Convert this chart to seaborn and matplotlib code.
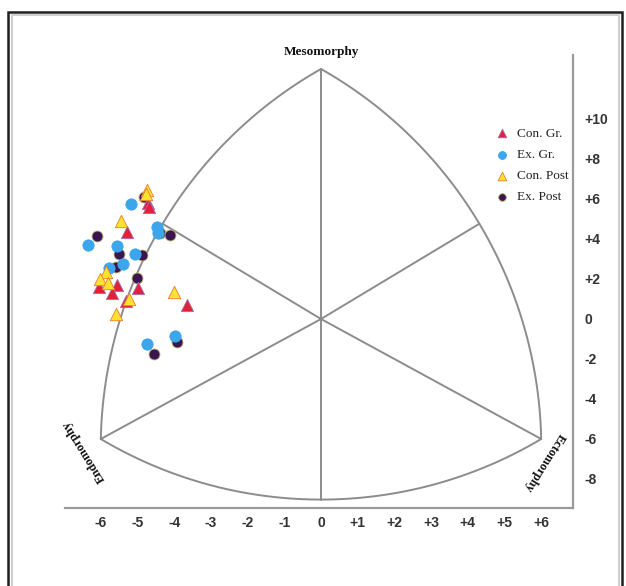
import numpy as np
import pandas as pd
import seaborn as sns
import matplotlib.pyplot as plt
import matplotlib.patches as mpatches

# --- somatotype points (x = ecto - endo, y = 2*meso - (endo + ecto)) ---
con_gr_x = [-4.71, -4.70, -5.29, -6.05, -5.56, -5.69, -4.99, -5.31, -3.65]
con_gr_y = [5.80, 5.60, 4.35, 1.60, 1.70, 1.30, 1.55, 0.90, 0.70]

ex_gr_x = [-5.18, -4.47, -4.44, -6.35, -5.56, -5.07, -5.40, -5.78, -3.98, -4.74]
ex_gr_y = [5.75, 4.60, 4.30, 3.70, 3.65, 3.25, 2.75, 2.55, -0.85, -1.25]

con_post_x = [-4.74, -4.77, -5.45, -5.86, -6.02, -5.80, -5.23, -5.59, -4.00]
con_post_y = [6.45, 6.25, 4.90, 2.35, 2.00, 1.80, 1.00, 0.25, 1.35]

ex_post_x = [-4.82, -6.10, -4.39, -4.11, -5.50, -4.88, -5.59, -5.01, -3.92, -4.55]
ex_post_y = [6.10, 4.15, 4.30, 4.20, 3.25, 3.20, 2.60, 2.05, -1.15, -1.75]

x_ticks = [-6, -5, -4, -3, -2, -1, 0, 1, 2, 3, 4, 5, 6]
y_ticks = [-8, -6, -4, -2, 0, 2, 4, 6, 8, 10]

# somatochart corners: endomorphy, ectomorphy, mesomorphy
endo_pt = (-6.0, -6.0)
ecto_pt = (6.0, -6.0)
meso_pt = (0.0, 12.5)

# --- figure ---
sns.set_style("white")
fig = plt.figure(figsize=(6.26, 5.86), dpi=100)
ax = fig.add_axes([65 / 626, 1 - 508 / 586, (573 - 65) / 626, (508 - 55) / 586])
ax.set_xlim((65 - 321) / 36.7, (573 - 321) / 36.7)
ax.set_ylim((319 - 508) / 20, (319 - 55) / 20)

# pixel-like scale so the Reuleaux arcs look round
SX, SY = 36.7, 20.0


def arc(a, b, c, n=81):
    ax_, ay_ = (a[0] - c[0]) * SX, (a[1] - c[1]) * SY
    bx_, by_ = (b[0] - c[0]) * SX, (b[1] - c[1]) * SY
    ta, tb = np.arctan2(ay_, ax_), np.arctan2(by_, bx_)
    d = (tb - ta + np.pi) % (2 * np.pi) - np.pi
    ra, rb = np.hypot(ax_, ay_), np.hypot(bx_, by_)
    t = np.linspace(0, 1, n)
    ang = ta + d * t
    r = ra + (rb - ra) * t
    return c[0] + r * np.cos(ang) / SX, c[1] + r * np.sin(ang) / SY


frame_col = "#8c8c8c"
arcs = [arc(endo_pt, meso_pt, ecto_pt), arc(meso_pt, ecto_pt, endo_pt),
        arc(ecto_pt, endo_pt, meso_pt)]
for xs, ys in arcs:
    ax.plot(xs, ys, color=frame_col, lw=1.4, zorder=1)
    # spoke to the middle of each arc
    ax.plot([0, xs[len(xs) // 2]], [0, ys[len(ys) // 2]], color=frame_col, lw=1.4, zorder=1)
for p in (endo_pt, ecto_pt, meso_pt):
    ax.plot([0, p[0]], [0, p[1]], color=frame_col, lw=1.4, zorder=1)

# --- points ---
groups = [
    ("Ex. Post", ex_post_x, ex_post_y, "o", "#3b1552", "#b9b468", 62, 3),
    ("Ex. Gr.", ex_gr_x, ex_gr_y, "o", "#3ba6ec", "#3ba6ec", 66, 4),
    ("Con. Gr.", con_gr_x, con_gr_y, "^", "#e2203a", "#a070b0", 78, 5),
    ("Con. Post", con_post_x, con_post_y, "^", "#fde330", "#ef7a2c", 80, 6),
]
for name, xs, ys, mk, fc, ec, s, z in groups:
    df = pd.DataFrame({"x": xs, "y": ys})
    sns.scatterplot(data=df, x="x", y="y", marker=mk, color=fc, edgecolor=ec,
                    linewidth=0.6, s=s, zorder=z, label=name, ax=ax, legend=True)

# legend in original order
handles, labels = ax.get_legend_handles_labels()
order = ["Con. Gr.", "Ex. Gr.", "Con. Post", "Ex. Post"]
hmap = dict(zip(labels, handles))
leg = ax.legend([hmap[k] for k in order], order, loc="upper left",
                bbox_to_anchor=(490 / 626, 1 - 121 / 586), bbox_transform=fig.transFigure,
                frameon=False, borderpad=0, handlelength=0.8, handletextpad=0.75,
                labelspacing=0.68, markerscale=0.7,
                prop={"family": "Liberation Serif", "size": 9.5})
for t in leg.get_texts():
    t.set_color("#222222")

# --- axes styling ---
for side in ("left", "top"):
    ax.spines[side].set_visible(False)
for side in ("bottom", "right"):
    ax.spines[side].set_color("#9a9a9a")
    ax.spines[side].set_linewidth(1.6)

ax.yaxis.tick_right()
ax.set_xticks(x_ticks)
ax.set_xticklabels([f"+{v}" if v > 0 else str(v) for v in x_ticks])
ax.set_yticks(y_ticks)
ax.set_yticklabels([f"+{v}" if v > 0 else str(v) for v in y_ticks])
ax.tick_params(axis="x", length=0, pad=6)
ax.tick_params(axis="y", length=0, pad=8)
for lab in ax.get_xticklabels() + ax.get_yticklabels():
    lab.set_fontfamily("Liberation Sans")
    lab.set_fontweight("bold")
    lab.set_fontsize(10)
    lab.set_color("#333333")
ax.set_xlabel("")
ax.set_ylabel("")

# corner labels
ax.text(0, 13.35, "Mesomorphy", ha="center", va="center", fontsize=9.5,
        fontweight="bold", family="Liberation Serif", color="#111111", clip_on=False)
ax.text(-6.46, -6.6, "Endomorphy", ha="center", va="center", fontsize=9,
        fontweight="bold", family="Liberation Serif", rotation=122,
        rotation_mode="anchor", color="#111111")
ax.text(6.08, -7.15, "Ectomorphy", ha="center", va="center", fontsize=9,
        fontweight="bold", family="Liberation Serif", rotation=238,
        rotation_mode="anchor", color="#111111")

# outer picture frame
fig.patches.append(mpatches.Rectangle((8 / 626, -0.05), 614 / 626, 1.05 - 12 / 586,
                                      transform=fig.transFigure, fill=False,
                                      edgecolor="#1e1e1e", lw=1.8))
fig.patches.append(mpatches.Rectangle((11.5 / 626, -0.05), 607 / 626, 1.05 - 15.5 / 586,
                                      transform=fig.transFigure, fill=False,
                                      edgecolor="#cfcfcf", lw=1.5))

plt.savefig("out.png", dpi=100)
